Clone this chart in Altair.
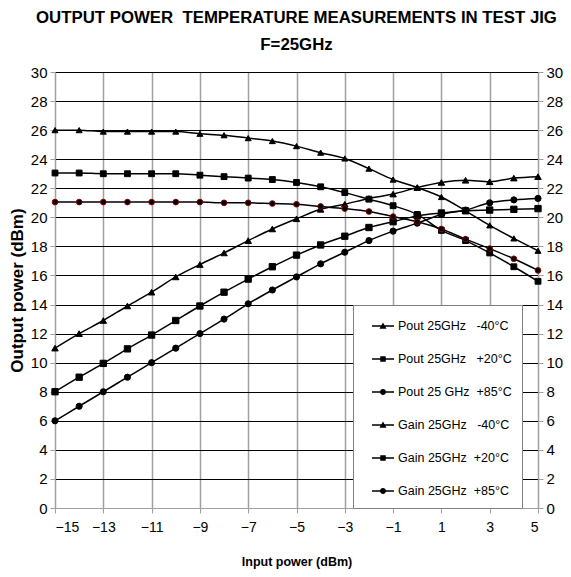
import altair as alt
import pandas as pd

x_vals = [-15, -14, -13, -12, -11, -10, -9, -8, -7, -6, -5, -4, -3, -2, -1, 0, 1, 2, 3, 4, 5]

pout_m40 = [11.0, 12.0, 12.9, 13.9, 14.85, 15.9, 16.75, 17.55, 18.4, 19.2, 19.9, 20.55, 20.9, 21.3, 21.6, 22.05, 22.4, 22.55, 22.45, 22.7, 22.8]
pout_p20 = [8.0, 9.0, 9.95, 10.95, 11.9, 12.9, 13.9, 14.85, 15.75, 16.6, 17.4, 18.1, 18.7, 19.3, 19.7, 20.1, 20.3, 20.45, 20.5, 20.55, 20.6]
pout_p85 = [6.0, 7.0, 8.0, 9.0, 10.0, 11.0, 12.0, 13.0, 14.05, 15.0, 15.9, 16.8, 17.6, 18.4, 19.05, 19.6, 20.2, 20.5, 21.0, 21.2, 21.3]
gain_m40 = [26.0, 26.0, 25.9, 25.9, 25.9, 25.9, 25.75, 25.65, 25.45, 25.25, 24.9, 24.45, 24.05, 23.35, 22.6, 22.05, 21.4, 20.45, 19.45, 18.55, 17.7]
gain_p20 = [23.05, 23.05, 23.0, 23.0, 23.0, 23.0, 22.9, 22.8, 22.7, 22.6, 22.4, 22.1, 21.7, 21.25, 20.8, 20.2, 19.1, 18.4, 17.55, 16.6, 15.6]
gain_p85 = [21.05, 21.05, 21.05, 21.05, 21.05, 21.05, 21.05, 21.0, 21.0, 20.95, 20.9, 20.75, 20.6, 20.4, 20.05, 19.7, 19.2, 18.5, 17.85, 17.15, 16.35]

NB = "\u00a0"
series_names = [
    "Pout 25GHz" + NB * 3 + "-40°C",
    "Pout 25GHz" + NB * 3 + "+20°C",
    "Pout 25 GHz" + NB * 2 + "+85°C",
    "Gain 25GHz" + NB * 3 + "-40°C",
    "Gain 25GHz" + NB * 2 + "+20°C",
    "Gain 25GHz" + NB * 2 + "+85°C",
]
series_values = [pout_m40, pout_p20, pout_p85, gain_m40, gain_p20, gain_p85]

point_shapes = ["triangle-up", "square", "circle", "triangle-up", "square", "circle"]
point_sizes = [42, 32, 30, 42, 32, 46]
point_strokes = ["black", "black", "black", "black", "black", "#8b0000"]

dash = "M-1,-0.06H1V0.06H-1Z"
tri = dash + "M0,-0.32L0.32,0.24L-0.32,0.24Z"
sq = dash + "M-0.25,-0.25H0.25V0.25H-0.25Z"
circ = dash + "M0.27,0A0.27,0.27,0,1,1,-0.27,0A0.27,0.27,0,1,1,0.27,0Z"
legend_paths = [tri, sq, circ, tri, sq, circ]

x_ticks = [-15, -13, -11, -9, -7, -5, -3, -1, 1, 3, 5]
y_ticks = list(range(0, 31, 2))

rows = []
for name, vals in zip(series_names, series_values):
    for xv, yv in zip(x_vals, vals):
        rows.append({"series": name, "x": xv, "y": yv})
df = pd.DataFrame(rows)

FONT = "Liberation Sans, Arial, sans-serif"

xs = alt.Scale(domain=[-15, 5], nice=False, zero=False)
ys = alt.Scale(domain=[0, 30], nice=False, zero=False)

x_axis = alt.Axis(values=x_ticks, title="Input power (dBm)", grid=True, gridColor="#a0a0a0",
                  gridWidth=1.5, domainColor="#a0a0a0", tickColor="#a0a0a0", tickSize=5,
                  labelFont=FONT, labelFontSize=14, labelColor="black", labelPadding=7,
                  titleFont=FONT, titleFontSize=12.5, titleFontWeight="bold", titleColor="black",
                  titlePadding=21)

y_left = alt.Axis(values=y_ticks, title="Output power (dBm)", orient="left", grid=True,
                  gridColor="black", gridWidth=1, domainColor="#a0a0a0", tickColor="#a0a0a0",
                  tickSize=5, labelFont=FONT, labelFontSize=15, labelColor="black",
                  labelPadding=3, titleFont=FONT, titleFontSize=17,
                  titleFontWeight="bold", titleColor="black", titlePadding=4)
y_right = alt.Axis(values=y_ticks, title=None, orient="right", grid=False,
                   domainColor="#a0a0a0", tickColor="#a0a0a0", tickSize=5, labelFont=FONT,
                   labelFontSize=15, labelColor="black", labelPadding=3)

base = alt.Chart(df)

lines = base.mark_line(color="black", strokeWidth=1.5, interpolate="monotone").encode(
    x=alt.X("x:Q", scale=xs, axis=x_axis),
    y=alt.Y("y:Q", scale=ys, axis=y_left),
    detail="series:N",
)

points = base.mark_point(filled=True, fill="black", opacity=1, strokeWidth=1).encode(
    x=alt.X("x:Q", scale=xs, axis=x_axis),
    y=alt.Y("y:Q", scale=ys, axis=y_right),
    shape=alt.Shape("series:N", scale=alt.Scale(domain=series_names, range=point_shapes), legend=None),
    size=alt.Size("series:N", scale=alt.Scale(domain=series_names, range=point_sizes), legend=None),
    stroke=alt.Stroke("series:N", scale=alt.Scale(domain=series_names, range=point_strokes), legend=None),
)

legend_layer = base.mark_point(filled=True, color="black", opacity=1, size=484).encode(
    x=alt.X("x:Q", scale=xs, axis=x_axis),
    y=alt.Y("y:Q", scale=ys, axis=None),
    shape=alt.Shape("series:N", scale=alt.Scale(domain=series_names, range=legend_paths),
                    legend=alt.Legend(title=None, orient="none", legendX=298, legendY=233,
                                      fillColor="white", strokeColor="#808080", padding=10,
                                      symbolSize=484, symbolStrokeWidth=0,
                                      symbolFillColor="black",
                                      symbolOffset=9, labelOffset=4, rowPadding=15,
                                      labelFont=FONT, labelFontSize=12.5, labelColor="black",
                                      labelLimit=300)),
).transform_filter("datum.x > 100")

chart = alt.layer(lines, points, legend_layer).resolve_scale(
    shape="independent"
).resolve_axis(y="independent").properties(
    width=483,
    height=436,
    autosize=alt.AutoSizeParams(type="none"),
    padding={"left": 47, "top": 64, "right": 25, "bottom": 61},
    title=alt.Title(
        text="OUTPUT POWER" + NB * 2 + "TEMPERATURE MEASUREMENTS IN TEST JIG",
        subtitle="F=25GHz",
        font=FONT, fontSize=16.8, fontWeight="bold", color="black",
        subtitleFont=FONT, subtitleFontSize=16.8, subtitleFontWeight="bold",
        subtitleColor="black", subtitlePadding=10, anchor="middle", offset=11,
    ),
).configure_view(stroke=None)

chart.save("out.html", embed_options={"renderer": "svg", "actions": False})
